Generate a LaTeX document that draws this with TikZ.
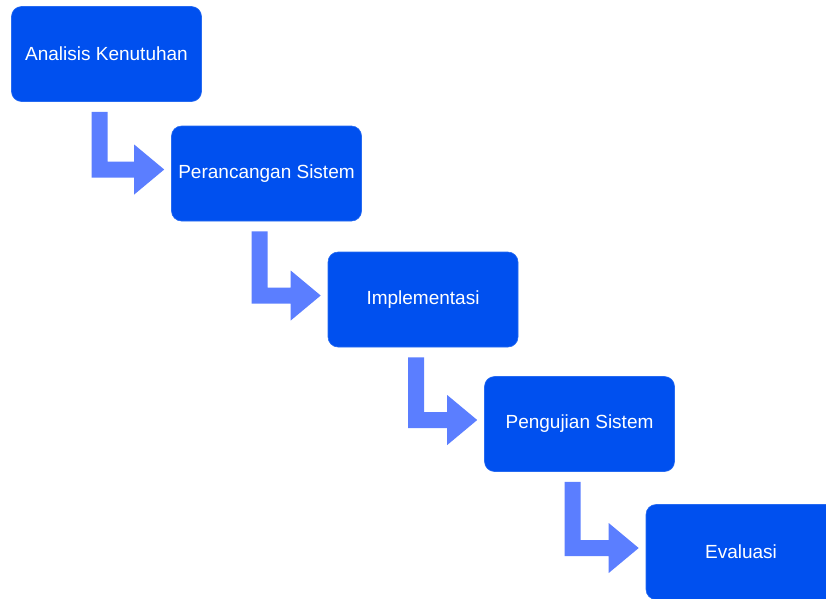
\documentclass[tikz,border=0pt]{standalone}
\usepackage{fontspec}
\setmainfont{Liberation Sans}
\usetikzlibrary{calc}
\definecolor{boxblue}{HTML}{0050EF}
\definecolor{arrowblue}{HTML}{5B7EFF}
\tikzset{
    tahap/.style={rectangle, rounded corners=10pt, fill=boxblue, draw=boxblue!85!white,
        line width=0.6pt, minimum width=190pt, minimum height=95pt, text=white,
        font=\fontsize{19}{22}\selectfont},
    panah/.style={fill=arrowblue}
}
\begin{document}
\begin{tikzpicture}[x=1pt,y=-1pt,line join=round]
    \useasboundingbox (0,0) rectangle (826,598);
    \node[tahap] (analisis) at (106.5,54) {Analisis Kenutuhan};
    \node[tahap] (perancangan) at (266.5,173.5) {Perancangan Sistem};
    \node[tahap] (implementasi) at (423,299.5) {Implementasi};
    \node[tahap] (pengujian) at (579.5,424) {Pengujian Sistem};
    \node[tahap] (evaluasi) at (741,552) {Evaluasi};
    % panah berbentuk L antar tahap
    \foreach \a/\b in {analisis/perancangan, perancangan/implementasi,
        implementasi/pengujian, pengujian/evaluasi}
        \fill[panah] ($(\a.south)+(-15,10)$) -- ($(\a.south)+(1,10)$)
            |- ($(\b.west)+(-37,-12)$) -- ($(\b.west)+(-37,-29)$)
            -- ($(\b.west)+(-7,-4)$) -- ($(\b.west)+(-37,21)$)
            -- ($(\b.west)+(-37,4)$) -| ($(\a.south)+(-15,10)$) -- cycle;
\end{tikzpicture}
\end{document}
